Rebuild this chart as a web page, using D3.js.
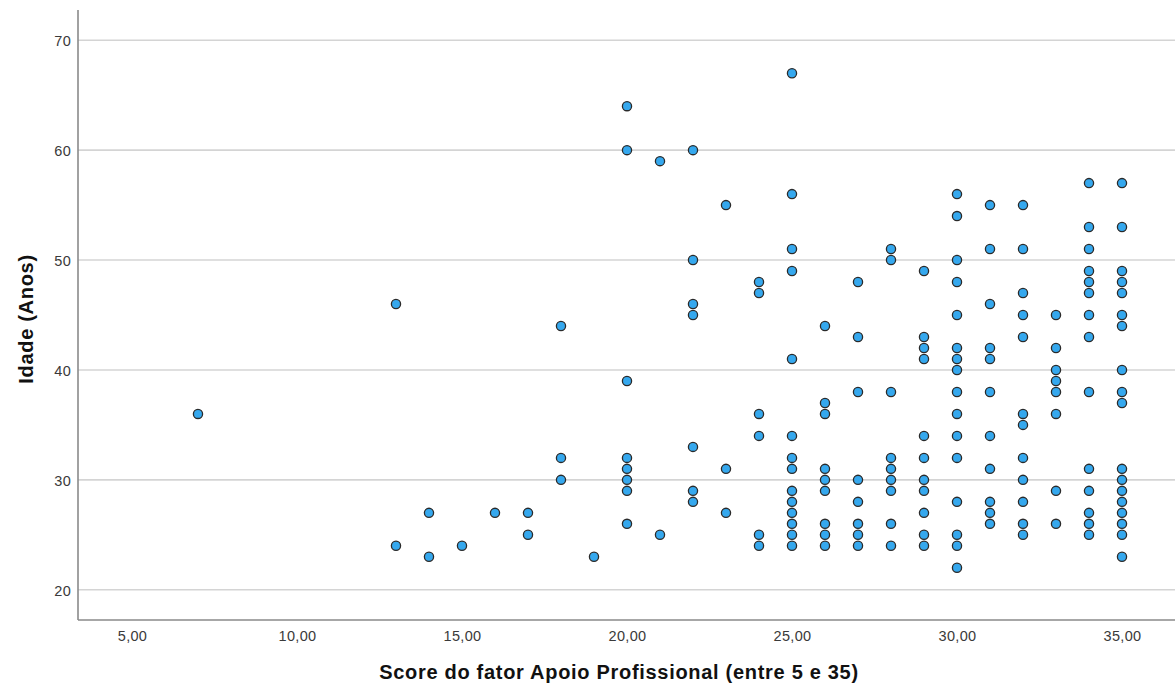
<!DOCTYPE html>
<html>
<head>
<meta charset="utf-8">
<script src="https://cdn.jsdelivr.net/npm/d3@7"></script>
<style>
  html, body { margin: 0; padding: 0; background: #fff; }
  svg { display: block; }
</style>
</head>
<body>
<svg id="chart" width="1175" height="693"></svg>
<script>
// Professional-support factor score (x) and the respondents' ages at each score (y)
const scores = [7, 13, 14, 15, 16, 17, 18, 19, 20, 21, 22, 23, 24, 25, 26, 27, 28, 29, 30, 31, 32, 33, 34, 35];
const agesAtScore = [
  [36],
  [46, 24],
  [27, 23],
  [24],
  [27],
  [27, 25],
  [44, 32, 30],
  [23],
  [64, 60, 39, 32, 31, 30, 29, 26],
  [59, 25],
  [60, 50, 46, 45, 33, 29, 28],
  [55, 31, 27],
  [48, 47, 36, 34, 25, 24],
  [67, 56, 51, 49, 41, 34, 32, 31, 29, 28, 27, 26, 25, 24],
  [44, 37, 36, 31, 30, 29, 26, 25, 24],
  [48, 43, 38, 30, 28, 26, 25, 24],
  [51, 50, 38, 32, 31, 30, 29, 26, 24],
  [49, 43, 42, 41, 34, 32, 30, 29, 27, 25, 24],
  [56, 54, 50, 48, 45, 42, 41, 40, 38, 36, 34, 32, 28, 25, 24, 22],
  [55, 51, 46, 42, 41, 38, 34, 31, 28, 27, 26],
  [55, 51, 47, 45, 43, 36, 35, 32, 30, 28, 26, 25],
  [45, 42, 40, 39, 38, 36, 29, 26],
  [57, 53, 51, 49, 48, 47, 45, 43, 38, 31, 29, 27, 26, 25],
  [57, 53, 49, 48, 47, 45, 44, 40, 38, 37, 31, 30, 29, 28, 27, 26, 25, 23]
];
const xTicks = [5, 10, 15, 20, 25, 30, 35];
const yTicks = [20, 30, 40, 50, 60, 70];
const xTitle = "Score do fator Apoio Profissional (entre 5 e 35)";
const yTitle = "Idade (Anos)";

const points = scores.flatMap((s, i) => agesAtScore[i].map(a => ({ score: s, age: a })));

const svg = d3.select("#chart");
const W = 1175, H = 693;
const margin = { top: 10, right: 0, bottom: 73, left: 78 };
const innerW = W - margin.left - margin.right;
const innerH = H - margin.top - margin.bottom;
const FONT = "Liberation Sans, Arial, sans-serif";

const x = d3.scaleLinear().domain([3.364, 36.606]).range([margin.left, margin.left + innerW]);
const y = d3.scaleLinear().domain([17.25, 72.75]).range([margin.top + innerH, margin.top]);

const fmt = v => d3.format(".2f")(v).replace(".", ",");

// horizontal grid lines
svg.append("g")
  .selectAll("line")
  .data(yTicks)
  .join("line")
  .attr("x1", margin.left)
  .attr("x2", W)
  .attr("y1", d => y(d))
  .attr("y2", d => y(d))
  .attr("stroke", "#d4d4d4")
  .attr("stroke-width", 1.6);

// y axis
const yAxis = svg.append("g")
  .attr("transform", `translate(${margin.left},0)`)
  .call(d3.axisLeft(y).tickValues(yTicks).tickSize(0).tickPadding(7));
yAxis.select(".domain").remove();
yAxis.selectAll("text")
  .attr("font-family", FONT)
  .attr("font-size", 14.5)
  .attr("letter-spacing", 0.3)
  .attr("dy", "0.36em")
  .attr("fill", "#3a3a3a");

// x axis
const xAxis = svg.append("g")
  .attr("transform", `translate(0,${margin.top + innerH})`)
  .call(d3.axisBottom(x).tickValues(xTicks).tickFormat(fmt).tickSize(0).tickPadding(11));
xAxis.select(".domain").remove();
xAxis.selectAll("text")
  .attr("font-family", FONT)
  .attr("font-size", 14.5)
  .attr("letter-spacing", 0.3)
  .attr("fill", "#3a3a3a");

// axis frame lines
svg.append("line")
  .attr("x1", margin.left).attr("x2", margin.left)
  .attr("y1", margin.top).attr("y2", margin.top + innerH)
  .attr("stroke", "#8a8a8a").attr("stroke-width", 1.6);
svg.append("line")
  .attr("x1", margin.left).attr("x2", W)
  .attr("y1", margin.top + innerH).attr("y2", margin.top + innerH)
  .attr("stroke", "#8a8a8a").attr("stroke-width", 1.6);

// points
svg.append("g")
  .selectAll("circle")
  .data(points)
  .join("circle")
  .attr("cx", d => x(d.score))
  .attr("cy", d => y(d.age))
  .attr("r", 4.6)
  .attr("fill", "#35a8ee")
  .attr("stroke", "#2a2a2a")
  .attr("stroke-width", 1.3);

// axis titles
svg.append("text")
  .attr("x", 619)
  .attr("y", 679)
  .attr("text-anchor", "middle")
  .attr("font-family", FONT)
  .attr("font-weight", "bold")
  .attr("font-size", 20)
  .attr("letter-spacing", 0.7)
  .attr("fill", "#111")
  .text(xTitle);

svg.append("text")
  .attr("transform", "translate(33,319) rotate(-90)")
  .attr("text-anchor", "middle")
  .attr("font-family", FONT)
  .attr("font-weight", "bold")
  .attr("font-size", 20)
  .attr("letter-spacing", 0.7)
  .attr("fill", "#111")
  .text(yTitle);
</script>
</body>
</html>
